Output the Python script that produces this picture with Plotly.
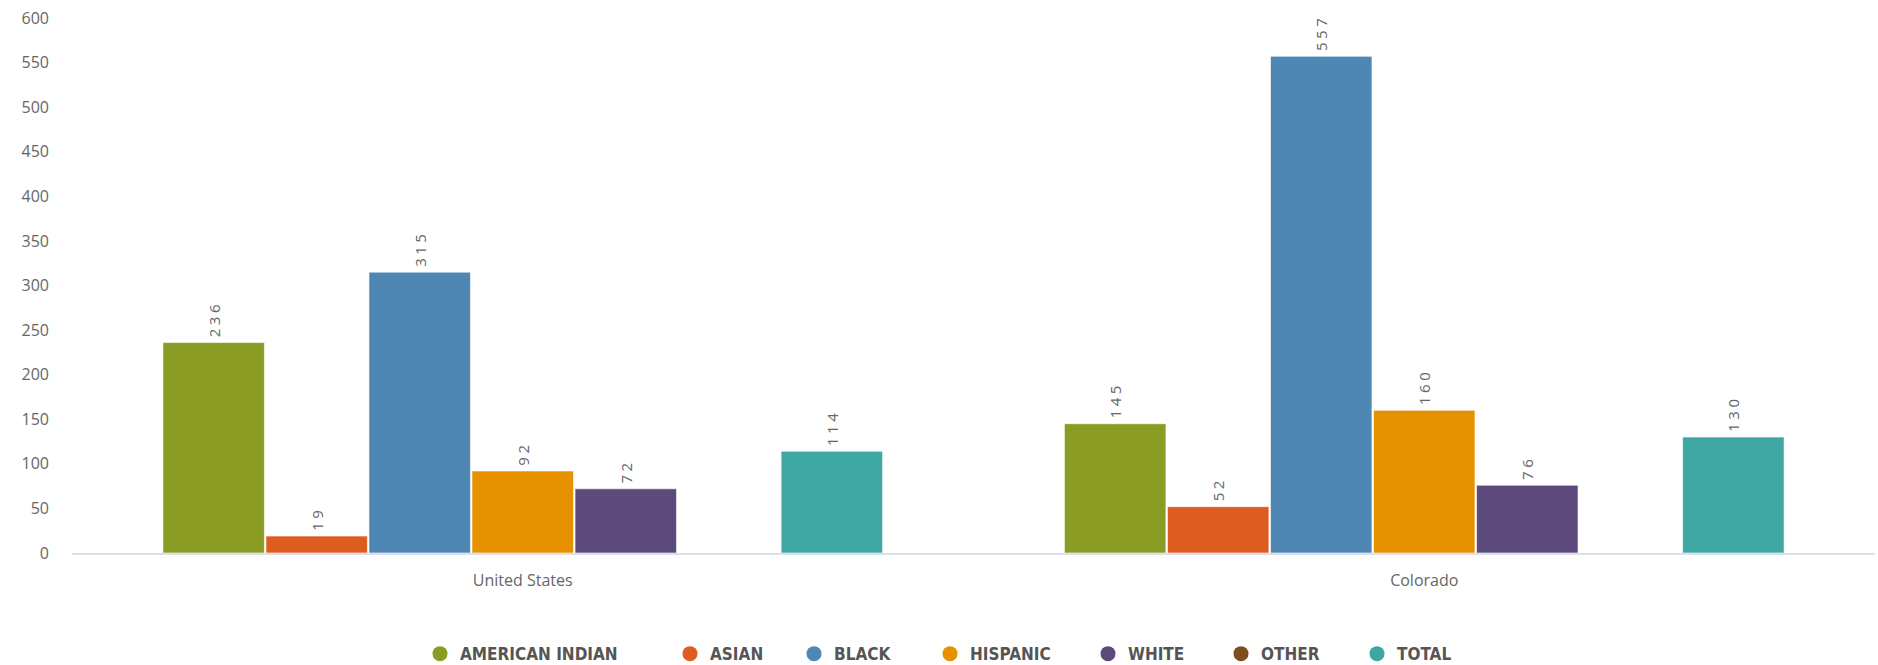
import plotly.graph_objects as go

# Rates by race/ethnicity for two geographies
categories = ["United States", "Colorado"]
series_names = ["AMERICAN INDIAN", "ASIAN", "BLACK", "HISPANIC", "WHITE", "OTHER", "TOTAL"]
american_indian = [236, 145]
asian = [19, 52]
black = [315, 557]
hispanic = [92, 160]
white = [72, 76]
other = [None, None]
total = [114, 130]
y_ticks = list(range(0, 601, 50))

series_values = [american_indian, asian, black, hispanic, white, other, total]
colors = ["#8b9c25", "#de5b21", "#4f87b4", "#e69100", "#5c4a7c", "#7b4f1f", "#3ea6a3"]

# Horizontal pixel position of each legend marker along the bottom row
legend_marker_px = [440, 690, 814, 950, 1108, 1241, 1377]

FIG_W, FIG_H = 1878, 665
M_L, M_R, M_T, M_B = 72, 3, 18, 112
plot_w = FIG_W - M_L - M_R

fig = go.Figure()

for name, vals, color in zip(series_names, series_values, colors):
    fig.add_trace(go.Bar(
        name=name,
        x=categories,
        y=vals,
        marker=dict(color=color, line=dict(color="rgba(255,255,255,0.6)", width=1)),
        # small leading no-break space lifts the value label a little off the bar
        texttemplate='<span style="font-size:9px">\u00a0</span>'
                     '<span style="letter-spacing:3.5px">%{y}</span>',
        textposition="outside",
        textangle=-90,
        textfont=dict(family="Open Sans", size=15, color="#666666"),
        cliponaxis=False,
        showlegend=False,
        hoverinfo="skip",
    ))

# Legend entries drawn with round markers, one small legend per entry
legend_layouts = {}
for i, (name, color) in enumerate(zip(series_names, colors)):
    key = "legend" if i == 0 else f"legend{i + 1}"
    fig.add_trace(go.Scatter(
        name=name,
        x=[None], y=[None],
        mode="markers",
        marker=dict(symbol="circle", size=15, color=color),
        showlegend=True,
        legend=key,
    ))
    legend_layouts[key] = dict(
        orientation="h",
        x=(legend_marker_px[i] - 20 - M_L) / plot_w,
        xanchor="left",
        y=-0.189,
        yanchor="middle",
        bgcolor="rgba(0,0,0,0)",
        font=dict(family="DejaVu Sans Condensed, Roboto, sans-serif", size=17,
                  color="#555555", weight="bold"),
        itemclick=False,
        itemdoubleclick=False,
    )

fig.update_layout(
    width=FIG_W,
    height=FIG_H,
    barmode="group",
    bargap=0.2,
    bargroupgap=0.015,
    plot_bgcolor="white",
    paper_bgcolor="white",
    margin=dict(l=M_L, r=M_R, t=M_T, b=M_B, autoexpand=False),
    font=dict(family="Open Sans", color="#666666"),
    xaxis=dict(
        type="category",
        showgrid=False,
        showline=True,
        linecolor="#dbe1ea",
        linewidth=2,
        ticks="",
        tickfont=dict(family="Open Sans", size=16, color="#666666"),
        ticklabelstandoff=12,
        zeroline=False,
    ),
    yaxis=dict(
        range=[0, 600],
        tickvals=y_ticks,
        showgrid=False,
        zeroline=False,
        showline=False,
        ticks="",
        tickfont=dict(family="Open Sans", size=16, color="#666666"),
        ticklabelstandoff=22,
    ),
    **legend_layouts,
)

fig.write_html("out.html")
